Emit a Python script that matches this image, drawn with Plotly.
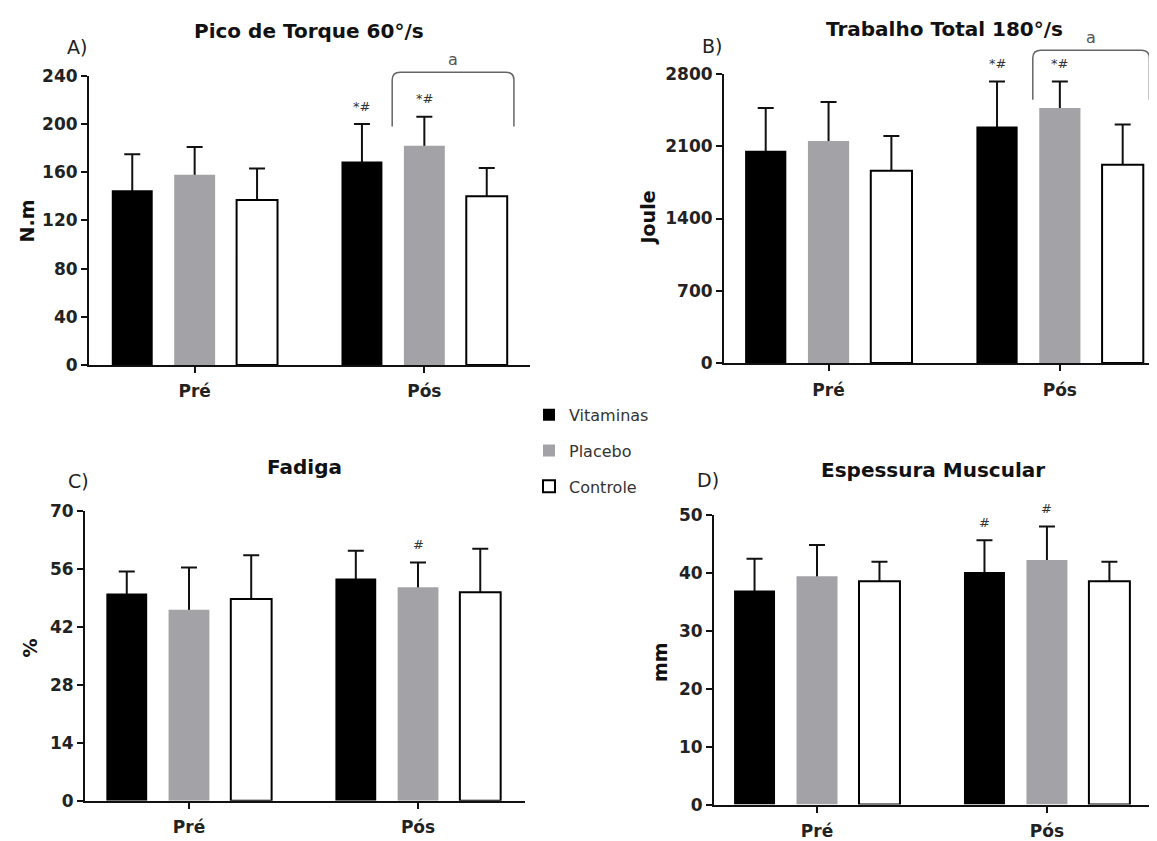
import plotly.graph_objects as go

W, H = 1157, 841
PAGE_OFFSET = 8          # default body margin of the html page
FW, FH = W - PAGE_OFFSET, H - PAGE_OFFSET

# ---------------- data ----------------
categories = ["Pré", "Pós"]
groups = ["Vitaminas", "Placebo", "Controle"]

# A) Pico de Torque 60°/s (N.m)
torque_vitaminas = [145, 169]
torque_placebo = [158, 182]
torque_controle = [137, 140]
torque_vitaminas_dp = [30, 31]
torque_placebo_dp = [23, 24]
torque_controle_dp = [26, 23.5]

# B) Trabalho Total 180°/s (Joule)
trabalho_vitaminas = [2055, 2290]
trabalho_placebo = [2150, 2470]
trabalho_controle = [1863, 1920]
trabalho_vitaminas_dp = [416, 436]
trabalho_placebo_dp = [378, 256]
trabalho_controle_dp = [336, 390]

# C) Fadiga (%)
fadiga_vitaminas = [50.0, 53.6]
fadiga_placebo = [46.1, 51.5]
fadiga_controle = [48.7, 50.3]
fadiga_vitaminas_dp = [5.3, 6.7]
fadiga_placebo_dp = [10.2, 6.0]
fadiga_controle_dp = [10.5, 10.5]

# D) Espessura Muscular (mm)
espessura_vitaminas = [37.0, 40.2]
espessura_placebo = [39.5, 42.3]
espessura_controle = [38.6, 38.6]
espessura_vitaminas_dp = [5.5, 5.5]
espessura_placebo_dp = [5.4, 5.8]
espessura_controle_dp = [3.4, 3.4]

y_ticks_A = [0, 40, 80, 120, 160, 200, 240]
y_ticks_B = [0, 700, 1400, 2100, 2800]
y_ticks_C = [0, 14, 28, 42, 56, 70]
y_ticks_D = [0, 10, 20, 30, 40, 50]

# significance marks: (panel index, group index, category index, text)
sig_marks = [
    (0, 0, 1, "*#"), (0, 1, 1, "*#"),
    (1, 0, 1, "*#"), (1, 1, 1, "*#"),
    (2, 1, 1, "#"),
    (3, 0, 1, "#"), (3, 1, 1, "#"),
]
# brackets "a": (panel index, x start, x end, y top, y leg end)
brackets = [
    (0, 0.86, 1.39, 243, 198),
    (1, 0.883, 1.387, 3030, 2551),
]

# ---------------- style / layout ----------------
FONT = "DejaVu Sans"
fills = {"Vitaminas": "#000000", "Placebo": "#a3a3a7", "Controle": "#ffffff"}
edges = {"Vitaminas": 0, "Placebo": 0, "Controle": 2}
BARGAP = 0.185
BARGROUPGAP = 0.344

panels = [
    dict(letter="A)", title="Pico de Torque 60°/s", ylabel="N.m",
         means=[torque_vitaminas, torque_placebo, torque_controle],
         sds=[torque_vitaminas_dp, torque_placebo_dp, torque_controle_dp],
         ticks=y_ticks_A, px_x=(89, 530), px_y=(68, 368), xrange=(-0.46, 1.46),
         title_xy=(309, 21), letter_xy=(77, 38), ylabel_xy=(27, 219)),
    dict(letter="B)", title="Trabalho Total 180°/s", ylabel="Joule",
         means=[trabalho_vitaminas, trabalho_placebo, trabalho_controle],
         sds=[trabalho_vitaminas_dp, trabalho_placebo_dp, trabalho_controle_dp],
         ticks=y_ticks_B, px_x=(724, 1157), px_y=(66, 366), xrange=(-0.452, 1.42),
         title_xy=(944, 19), letter_xy=(712, 37), ylabel_xy=(648, 216)),
    dict(letter="C)", title="Fadiga", ylabel="%",
         means=[fadiga_vitaminas, fadiga_placebo, fadiga_controle],
         sds=[fadiga_vitaminas_dp, fadiga_placebo_dp, fadiga_controle_dp],
         ticks=y_ticks_C, px_x=(85, 525), px_y=(519, 820), xrange=(-0.454, 1.467),
         title_xy=(304, 474), letter_xy=(78, 488), ylabel_xy=(30, 662)),
    dict(letter="D)", title="Espessura Muscular", ylabel="mm",
         means=[espessura_vitaminas, espessura_placebo, espessura_controle],
         sds=[espessura_vitaminas_dp, espessura_placebo_dp, espessura_controle_dp],
         ticks=y_ticks_D, px_x=(714, 1155), px_y=(524, 824), xrange=(-0.448, 1.47),
         title_xy=(933, 477), letter_xy=(708, 487), ylabel_xy=(660, 676)),
]


def px2paper_x(px):
    return (px - PAGE_OFFSET) / FW


def px2paper_y(py):
    return 1 - (py - PAGE_OFFSET) / FH


fig = go.Figure()
annotations = []
shapes = []
layout_axes = {}

for i, p in enumerate(panels):
    n = i + 1
    xa, ya = f"x{n}", f"y{n}"
    ymax = p["ticks"][-1]
    # invisible carriers for the error bars (drawn beneath the visible bars)
    for idx, g in enumerate(groups):
        sd = p["sds"][idx]
        fig.add_trace(go.Bar(
            x=categories, y=p["means"][idx], name=g, offsetgroup=g,
            marker=dict(color="rgba(0,0,0,0)", line=dict(width=0)),
            error_y=dict(type="data", array=sd, arrayminus=[ymax * 0.03] * len(sd),
                         symmetric=False, color="#111111", thickness=2, width=8),
            xaxis=xa, yaxis=ya, showlegend=False, hoverinfo="skip"))
    for idx, g in enumerate(groups):
        fig.add_trace(go.Bar(
            x=categories, y=p["means"][idx], name=g, offsetgroup=g, legendgroup=g,
            marker=dict(color=fills[g], line=dict(color="#000000", width=edges[g])),
            xaxis=xa, yaxis=ya, showlegend=(i == 0)))

    x0, x1 = p["px_x"]
    ytop, ybot = p["px_y"]
    xd = [max(0, px2paper_x(x0)), min(1, px2paper_x(x1))]
    yd = [px2paper_y(ybot), px2paper_y(ytop)]
    layout_axes[f"xaxis{n}" if n > 1 else "xaxis"] = dict(
        domain=xd, anchor=ya, type="category", categoryorder="array",
        categoryarray=categories, range=list(p["xrange"]),
        showline=True, linewidth=2, linecolor="#111111", ticks="outside",
        ticklen=6, tickwidth=2, tickcolor="#111111", showgrid=False, zeroline=False,
        ticklabelstandoff=4,
        tickfont=dict(family=FONT, size=17, color="#222222", weight="bold"))
    layout_axes[f"yaxis{n}" if n > 1 else "yaxis"] = dict(
        domain=yd, anchor=xa, range=[0, ymax], tickvals=p["ticks"],
        showline=True, linewidth=2, linecolor="#111111", ticks="outside",
        ticklen=6, tickwidth=2, tickcolor="#111111", showgrid=False, zeroline=False,
        tickfont=dict(family=FONT, size=17, color="#222222", weight="bold"))

    # title, letter, y label
    annotations.append(dict(text=p["title"], x=px2paper_x(p["title_xy"][0]),
                            y=px2paper_y(p["title_xy"][1]), xref="paper", yref="paper",
                            showarrow=False, xanchor="center", yanchor="middle",
                            font=dict(family=FONT, size=20, color="#111111", weight="bold")))
    annotations.append(dict(text=p["letter"], x=px2paper_x(p["letter_xy"][0]),
                            y=px2paper_y(p["letter_xy"][1]), xref="paper", yref="paper",
                            showarrow=False, xanchor="center", yanchor="middle",
                            font=dict(family=FONT, size=19, color="#222222")))
    annotations.append(dict(text=p["ylabel"], x=px2paper_x(p["ylabel_xy"][0]),
                            y=px2paper_y(p["ylabel_xy"][1]), xref="paper", yref="paper",
                            showarrow=False, xanchor="center", yanchor="middle",
                            textangle=-90,
                            font=dict(family=FONT, size=19, color="#111111", weight="bold")))

slot = (1 - BARGAP) / len(groups)

# significance marks
for pi, gi, ci, txt in sig_marks:
    p = panels[pi]
    n = pi + 1
    top = p["means"][gi][ci] + p["sds"][gi][ci]
    annotations.append(dict(text=txt, x=ci + (gi - 1) * slot, y=top,
                            xref=f"x{n}", yref=f"y{n}", showarrow=False,
                            xanchor="center", yanchor="middle", yshift=18,
                            font=dict(family=FONT, size=13, color="#333333")))

# brackets
for pi, bx0, bx1, btop, bleg in brackets:
    p = panels[pi]
    n = pi + 1
    ymax = p["ticks"][-1]
    ytop_px, ybot_px = p["px_y"]
    yd0, yd1 = px2paper_y(ybot_px), px2paper_y(ytop_px)

    def vy(v):
        return yd0 + v / ymax * (yd1 - yd0)

    rx = 0.035
    ry = 8 / FH
    yt, yb = vy(btop), vy(bleg)
    path = (f"M {bx0},{yb} L {bx0},{yt - ry} Q {bx0},{yt} {bx0 + rx},{yt} "
            f"L {bx1 - rx},{yt} Q {bx1},{yt} {bx1},{yt - ry} L {bx1},{yb}")
    shapes.append(dict(type="path", path=path, xref=f"x{n}", yref="paper",
                       line=dict(color="#666666", width=1.5)))
    annotations.append(dict(text="a", x=(bx0 + bx1) / 2, y=yt, xref=f"x{n}", yref="paper",
                            showarrow=False, xanchor="center", yanchor="bottom", yshift=1,
                            font=dict(family=FONT, size=16, color="#555555")))

fig.update_layout(
    width=FW, height=FH,
    margin=dict(l=0, r=0, t=0, b=0),
    paper_bgcolor="white", plot_bgcolor="white",
    barmode="group", bargap=BARGAP, bargroupgap=BARGROUPGAP,
    annotations=annotations, shapes=shapes,
    legend=dict(x=px2paper_x(529), y=px2paper_y(402), xanchor="left", yanchor="top",
                font=dict(family=FONT, size=16, color="#333333"),
                tracegroupgap=12, bgcolor="rgba(0,0,0,0)"),
    **layout_axes,
)

fig.write_html("out.html")
